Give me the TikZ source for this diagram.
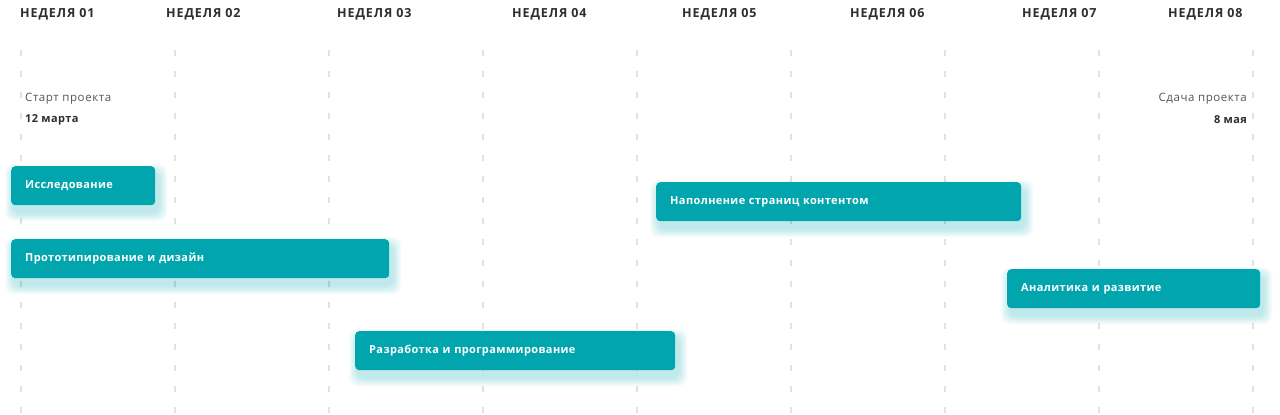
\documentclass[tikz,border=0pt]{standalone}
\usepackage{fontspec}
\setmainfont{Open Sans}
\newfontfamily\headfont[LetterSpace=7]{Open Sans}
\newfontfamily\notefont[LetterSpace=5]{Open Sans}
\newfontfamily\barfont[LetterSpace=3.5]{Open Sans}
\usetikzlibrary{backgrounds}
\definecolor{barteal}{HTML}{00A5AD}
\definecolor{headtxt}{HTML}{2E2E2E}
\definecolor{subtxt}{HTML}{555555}
\definecolor{gridgray}{HTML}{E2E2E2}
\tikzset{
  head/.style={anchor=west, inner sep=0pt, text=headtxt, font=\headfont\fontsize{12.5}{15}\selectfont\bfseries},
  gridline/.style={draw=gridgray, line width=1.8pt, dash pattern=on 6pt off 15pt},
  note/.style={inner sep=0pt, text=subtxt, font=\notefont\fontsize{11.5}{13}\selectfont},
  notebold/.style={inner sep=0pt, text=headtxt, font=\barfont\fontsize{11}{13}\selectfont\bfseries},
  bar/.style={anchor=north west, fill=barteal, rounded corners=4pt, minimum height=39pt,
    inner xsep=14pt, inner ysep=0pt, align=left, text=white,
    font=\barfont\fontsize{11}{13}\selectfont\bfseries},
  glowlayer/.style={fill=barteal, opacity=0.03, rounded corners=9pt},
}
\newcommand{\glowof}[1]{%
  \begin{scope}[on background layer]
    \foreach \k in {1,...,9} {
      \fill[glowlayer] ([shift={(3-\k,7-\k)}]#1.north west) rectangle ([shift={(3+\k,7+\k)}]#1.south east);
    }
  \end{scope}}
\begin{document}
\begin{tikzpicture}[x=1pt, y=-1pt]
\useasboundingbox (0,0) rectangle (1280,415);
% grid lines
\begin{scope}[on background layer]
\foreach \i in {0,...,8} {
  \draw[gridline] (21+154*\i,50) -- (21+154*\i,415);
}
\end{scope}
% headers
\node[head] (h1) at (20,14) {НЕДЕЛЯ 01};
\node[head] (h2) at (166,14) {НЕДЕЛЯ 02};
\node[head] (h3) at (337,14) {НЕДЕЛЯ 03};
\node[head] (h4) at (512,14) {НЕДЕЛЯ 04};
\node[head] (h5) at (682,14) {НЕДЕЛЯ 05};
\node[head] (h6) at (850,14) {НЕДЕЛЯ 06};
\node[head] (h7) at (1022,14) {НЕДЕЛЯ 07};
\node[head] (h8) at (1168,14) {НЕДЕЛЯ 08};
% start / end
\node[note, anchor=west] (st) at (25,99) {Старт проекта};
\node[notebold, anchor=west] (sd) at (25,120) {12 марта};
\node[note, anchor=east] (en) at (1247,99) {Сдача проекта};
\node[notebold, anchor=east] (ed) at (1247,120) {8 мая};
% bars
\node[bar, text width=116pt] (b1) at (11,166) {Исследование};
\node[bar, text width=350pt] (b2) at (11,239) {Прототипирование и дизайн};
\node[bar, text width=292pt] (b3) at (355,331) {Разработка и программирование};
\node[bar, text width=337pt] (b4) at (656,182) {Наполнение страниц контентом};
\node[bar, text width=225pt] (b5) at (1007,269) {Аналитика и развитие};
\glowof{b1}\glowof{b2}\glowof{b3}\glowof{b4}\glowof{b5}
\end{tikzpicture}
\end{document}
